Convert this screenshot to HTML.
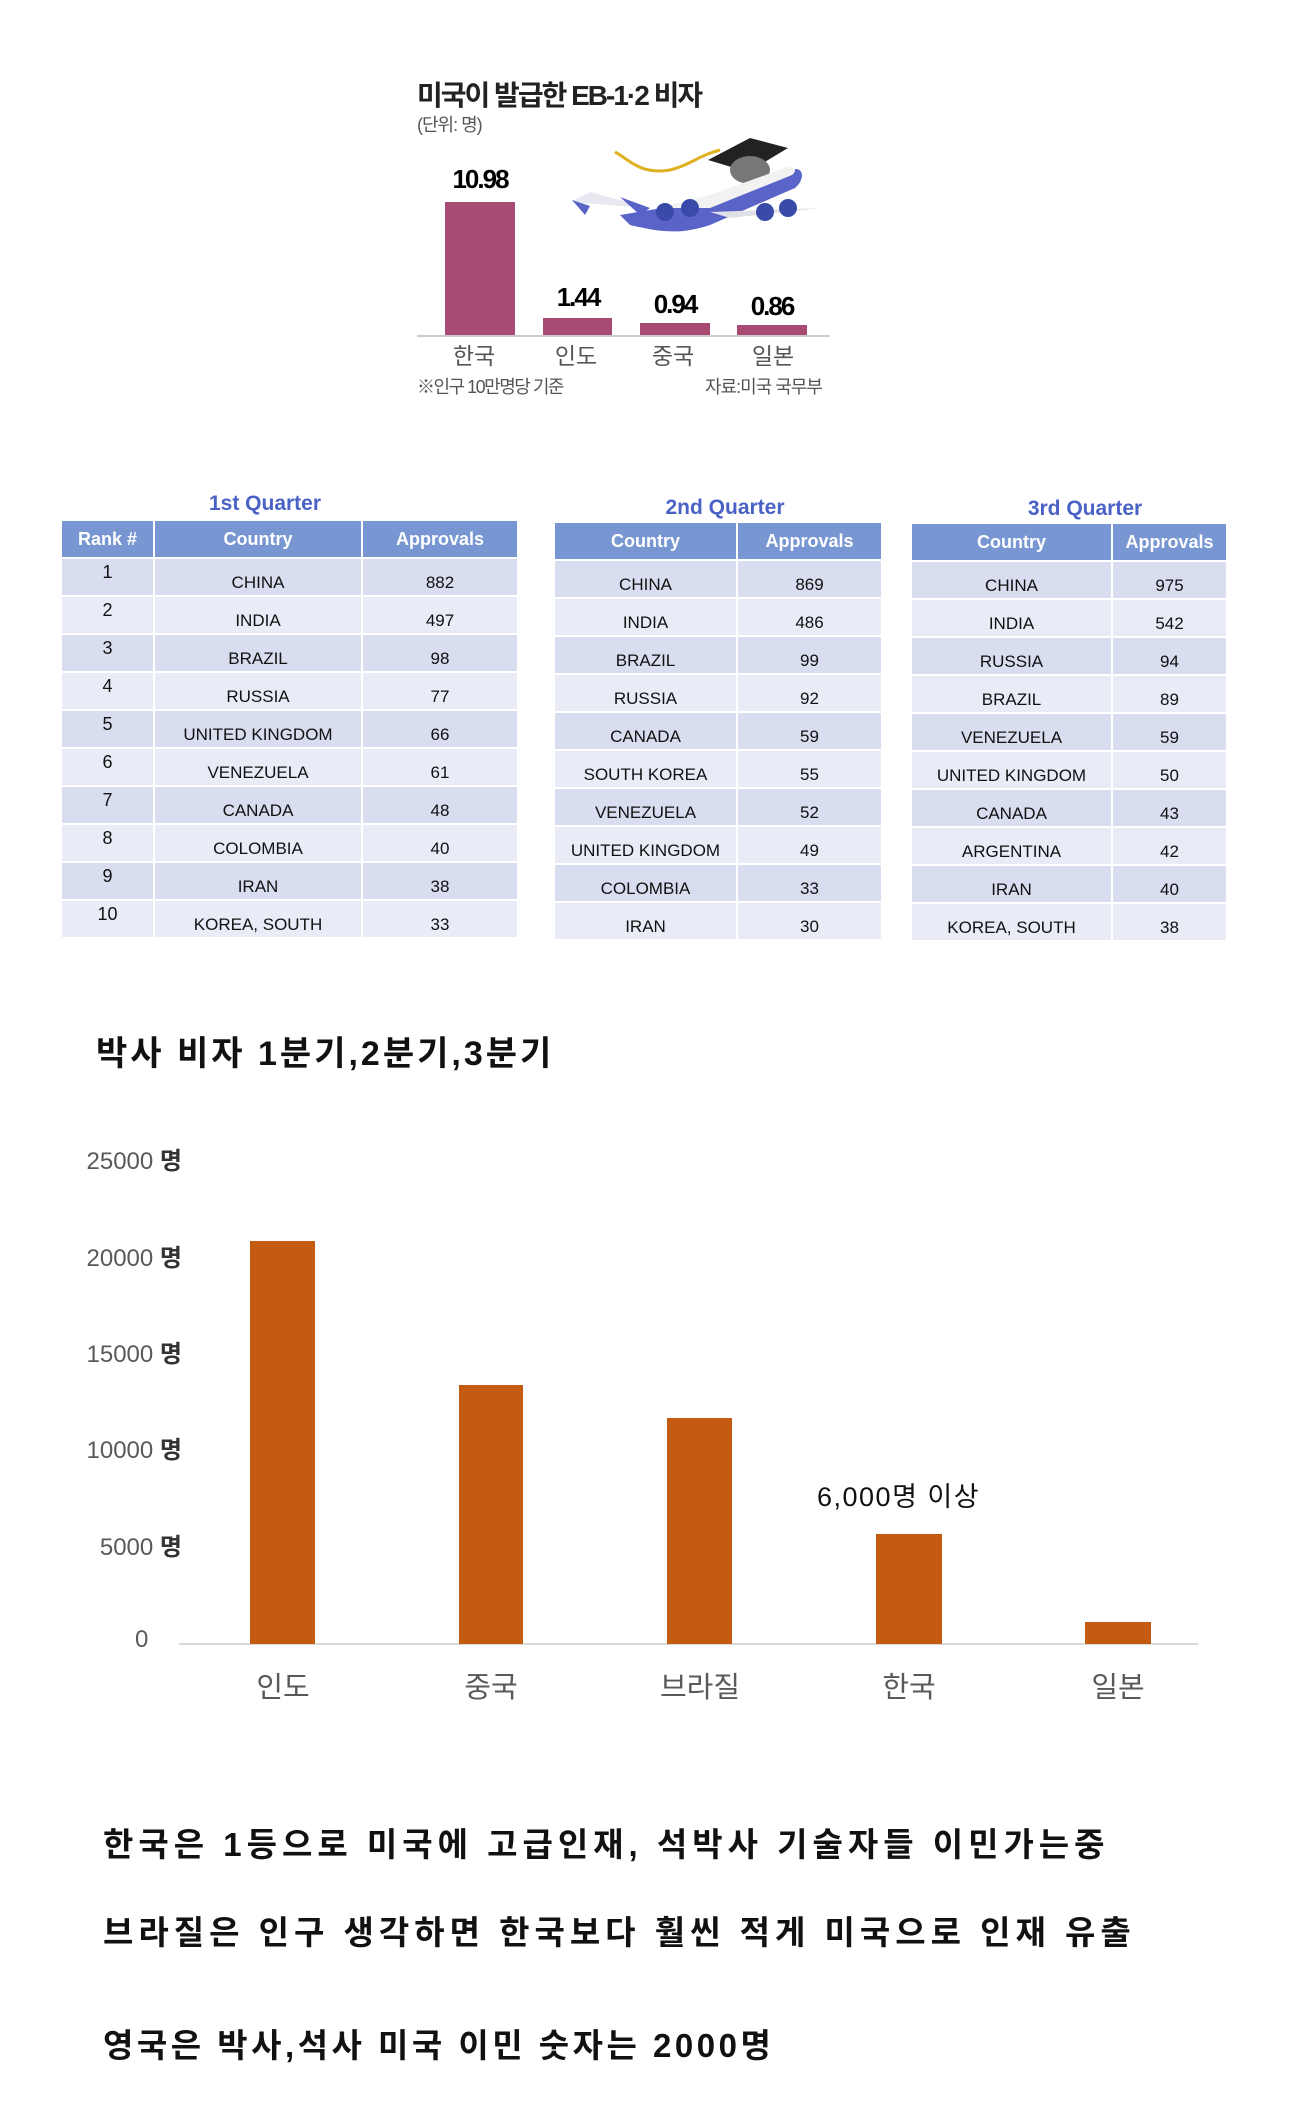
<!DOCTYPE html>
<html><head><meta charset="utf-8"><style>
body{margin:0;width:1300px;height:2101px;background:#fff;position:relative;overflow:hidden;font-family:"Liberation Sans","Noto Sans CJK KR",sans-serif}
.a{position:absolute;white-space:nowrap}
.c{transform:translateX(-50%)}
table{position:absolute;border-collapse:separate;border-spacing:2px;font-family:"Liberation Sans",sans-serif}
th{background:#7896d2;color:#fff;font-size:18px;font-weight:bold;height:36px;padding:0}
td{font-size:17px;color:#111;height:36px;padding:0;text-align:center;vertical-align:bottom;padding-bottom:2px;box-sizing:border-box}
tr.o td{background:#d8ddef} tr.e td{background:#e9ecf6}
td.r{vertical-align:top;padding-top:3px;padding-bottom:0;font-size:18px}
.qt{position:absolute;color:#4a62c6;font-weight:bold;font-size:21px;transform:translateX(-50%)}
.t{font-size:33px;font-weight:bold;color:#111;letter-spacing:5px}
</style></head><body>
<!-- top chart -->
<div class="a" style="left:417px;top:74px;font-size:28px;font-weight:bold;letter-spacing:-2px;color:#222">미국이 발급한 EB-1·2 비자</div>
<div class="a" style="left:417px;top:111px;font-size:18px;color:#555;letter-spacing:-1px">(단위: 명)</div>
<div class="a" style="left:445px;top:202px;width:70px;height:133px;background:#a84b73"></div>
<div class="a" style="left:543px;top:318px;width:69px;height:17px;background:#a84b73"></div>
<div class="a" style="left:640px;top:323px;width:70px;height:12px;background:#a84b73"></div>
<div class="a" style="left:737px;top:325px;width:70px;height:10px;background:#a84b73"></div>
<div class="a" style="left:417px;top:335px;width:413px;height:2px;background:#ccc"></div>
<div class="a c" style="left:480px;top:164px;font-size:26px;font-weight:bold;letter-spacing:-2px">10.98</div>
<div class="a c" style="left:578px;top:282px;font-size:26px;font-weight:bold;letter-spacing:-2px">1.44</div>
<div class="a c" style="left:675px;top:289px;font-size:26px;font-weight:bold;letter-spacing:-2px">0.94</div>
<div class="a c" style="left:772px;top:291px;font-size:26px;font-weight:bold;letter-spacing:-2px">0.86</div>
<div class="a c" style="left:474px;top:337px;font-size:23px;color:#555">한국</div>
<div class="a c" style="left:576px;top:337px;font-size:23px;color:#555">인도</div>
<div class="a c" style="left:673px;top:337px;font-size:23px;color:#555">중국</div>
<div class="a c" style="left:773px;top:337px;font-size:23px;color:#555">일본</div>
<div class="a" style="left:417px;top:373px;font-size:18px;color:#555;letter-spacing:-1.5px">※인구 10만명당 기준</div>
<div class="a" style="left:705px;top:373px;font-size:18px;color:#555;letter-spacing:-1px">자료:미국 국무부</div>
<svg class="a" style="left:560px;top:120px" width="280" height="130" viewBox="0 0 280 130">
<path d="M55 32 C70 40 80 55 110 50 C130 45 140 35 160 30" stroke="#e0b020" stroke-width="3" fill="none"/>
<polygon points="148,40 190,18 228,28 188,52" fill="#222"/>
<ellipse cx="190" cy="50" rx="20" ry="14" fill="#777"/>
<path d="M60 95 L150 80 L230 50 C245 45 245 60 235 68 L150 105 C120 115 100 112 70 105 Z" fill="#5a63c8"/>
<path d="M100 88 L150 75 L225 48 C235 45 238 50 232 55 L150 88 Z" fill="#f2f2f2"/>
<polygon points="10,82 90,88 30,72" fill="#e8e8f0"/>
<polygon points="12,80 25,95 30,86" fill="#5a63c8"/>
<polygon points="60,77 80,95 90,88" fill="#5a63c8"/>
<polygon points="150,92 260,88 170,98" fill="#e0e0e8"/>
<circle cx="105" cy="92" r="9" fill="#3a4aa8"/><circle cx="130" cy="88" r="9" fill="#3a4aa8"/>
<circle cx="205" cy="92" r="9" fill="#3a4aa8"/><circle cx="228" cy="88" r="9" fill="#3a4aa8"/>
</svg>
<!-- tables -->
<div class="qt" style="left:265px;top:492px">1st Quarter</div>
<div class="qt" style="left:725px;top:496px">2nd Quarter</div>
<div class="qt" style="left:1085px;top:497px">3rd Quarter</div>
<table style="left:60px;top:519px"><colgroup><col style="width:91px"><col style="width:206px"><col style="width:154px"></colgroup>
<tr><th>Rank #</th><th>Country</th><th>Approvals</th></tr>
<tr class="o"><td class="r">1</td><td>CHINA</td><td>882</td></tr>
<tr class="e"><td class="r">2</td><td>INDIA</td><td>497</td></tr>
<tr class="o"><td class="r">3</td><td>BRAZIL</td><td>98</td></tr>
<tr class="e"><td class="r">4</td><td>RUSSIA</td><td>77</td></tr>
<tr class="o"><td class="r">5</td><td>UNITED KINGDOM</td><td>66</td></tr>
<tr class="e"><td class="r">6</td><td>VENEZUELA</td><td>61</td></tr>
<tr class="o"><td class="r">7</td><td>CANADA</td><td>48</td></tr>
<tr class="e"><td class="r">8</td><td>COLOMBIA</td><td>40</td></tr>
<tr class="o"><td class="r">9</td><td>IRAN</td><td>38</td></tr>
<tr class="e"><td class="r">10</td><td>KOREA, SOUTH</td><td>33</td></tr>
</table>
<table style="left:553px;top:521px"><colgroup><col style="width:181px"><col style="width:143px"></colgroup>
<tr><th>Country</th><th>Approvals</th></tr>
<tr class="o"><td>CHINA</td><td>869</td></tr>
<tr class="e"><td>INDIA</td><td>486</td></tr>
<tr class="o"><td>BRAZIL</td><td>99</td></tr>
<tr class="e"><td>RUSSIA</td><td>92</td></tr>
<tr class="o"><td>CANADA</td><td>59</td></tr>
<tr class="e"><td>SOUTH KOREA</td><td>55</td></tr>
<tr class="o"><td>VENEZUELA</td><td>52</td></tr>
<tr class="e"><td>UNITED KINGDOM</td><td>49</td></tr>
<tr class="o"><td>COLOMBIA</td><td>33</td></tr>
<tr class="e"><td>IRAN</td><td>30</td></tr>
</table>
<table style="left:910px;top:522px"><colgroup><col style="width:199px"><col style="width:113px"></colgroup>
<tr><th>Country</th><th>Approvals</th></tr>
<tr class="o"><td>CHINA</td><td>975</td></tr>
<tr class="e"><td>INDIA</td><td>542</td></tr>
<tr class="o"><td>RUSSIA</td><td>94</td></tr>
<tr class="e"><td>BRAZIL</td><td>89</td></tr>
<tr class="o"><td>VENEZUELA</td><td>59</td></tr>
<tr class="e"><td>UNITED KINGDOM</td><td>50</td></tr>
<tr class="o"><td>CANADA</td><td>43</td></tr>
<tr class="e"><td>ARGENTINA</td><td>42</td></tr>
<tr class="o"><td>IRAN</td><td>40</td></tr>
<tr class="e"><td>KOREA, SOUTH</td><td>38</td></tr>
</table>
<!-- bottom chart -->
<div class="a" style="left:96px;top:1026px;font-size:34px;font-weight:bold;color:#111;letter-spacing:3px">박사 비자 1분기,2분기,3분기</div>
<div class="a" style="right:1118px;top:1141px;font-size:24px;color:#595959;text-align:right">25000 <b style="color:#333">명</b></div>
<div class="a" style="right:1118px;top:1238px;font-size:24px;color:#595959">20000 <b style="color:#333">명</b></div>
<div class="a" style="right:1118px;top:1334px;font-size:24px;color:#595959">15000 <b style="color:#333">명</b></div>
<div class="a" style="right:1118px;top:1430px;font-size:24px;color:#595959">10000 <b style="color:#333">명</b></div>
<div class="a" style="right:1118px;top:1527px;font-size:24px;color:#595959">5000 <b style="color:#333">명</b></div>
<div class="a" style="left:135px;top:1626px;font-size:24px;color:#595959">0</div>
<div class="a" style="left:179px;top:1643px;width:1019px;height:2px;background:#d9d9d9"></div>
<div class="a" style="left:250px;top:1241px;width:65px;height:403px;background:#c55a11"></div>
<div class="a" style="left:459px;top:1385px;width:64px;height:259px;background:#c55a11"></div>
<div class="a" style="left:667px;top:1418px;width:65px;height:226px;background:#c55a11"></div>
<div class="a" style="left:876px;top:1534px;width:66px;height:110px;background:#c55a11"></div>
<div class="a" style="left:1085px;top:1622px;width:66px;height:22px;background:#c55a11"></div>
<div class="a c" style="left:283px;top:1664px;font-size:29px;color:#595959">인도</div>
<div class="a c" style="left:491px;top:1664px;font-size:29px;color:#595959">중국</div>
<div class="a c" style="left:700px;top:1664px;font-size:29px;color:#595959">브라질</div>
<div class="a c" style="left:909px;top:1664px;font-size:29px;color:#595959">한국</div>
<div class="a c" style="left:1118px;top:1664px;font-size:29px;color:#595959">일본</div>
<div class="a" style="left:817px;top:1475px;font-size:27px;color:#111;letter-spacing:1.5px">6,000명 이상</div>
<div class="a t" style="left:103px;top:1818px">한국은 1등으로 미국에 고급인재, 석박사 기술자들 이민가는중</div>
<div class="a t" style="left:103px;top:1906px">브라질은 인구 생각하면 한국보다 훨씬 적게 미국으로 인재 유출</div>
<div class="a t" style="left:103px;top:2019px;letter-spacing:3.5px">영국은 박사,석사 미국 이민 숫자는 2000명</div>
</body></html>
